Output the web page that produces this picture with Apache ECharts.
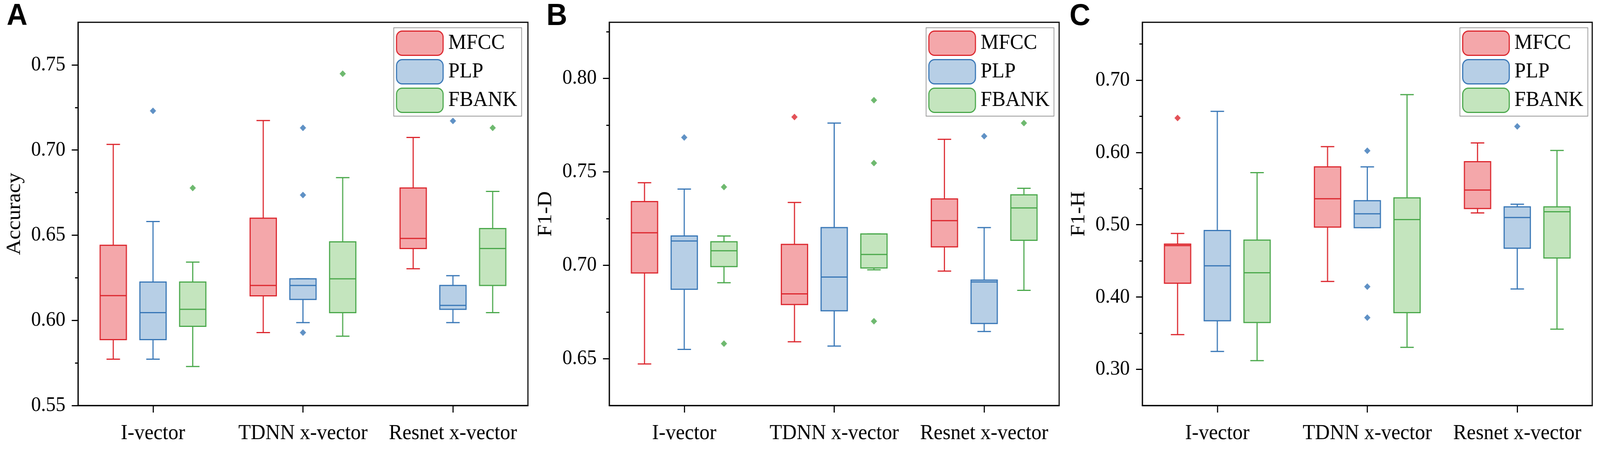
<!DOCTYPE html>
<html>
<head>
<meta charset="utf-8">
<script src="https://cdn.jsdelivr.net/npm/echarts@6/dist/echarts.min.js"></script>
<style>
html, body { margin: 0; padding: 0; background: #fff; overflow: hidden; }
#chart { width: 4328px; height: 1161px; transform-origin: 0 0; }
</style>
</head>
<body>
<div id="chart"></div>
<script>
var categories = ['I-vector', 'TDNN x-vector', 'Resnet x-vector'];
var features = ['MFCC', 'PLP', 'FBANK'];

// box values per category: [min, Q1, median, Q3, max]
var accMFCC  = [[0.5772, 0.5887, 0.6145, 0.6441, 0.7033], [0.5928, 0.6144, 0.6205, 0.6600, 0.7173], [0.6303, 0.6422, 0.6481, 0.6777, 0.7074]];
var accPLP   = [[0.5772, 0.5887, 0.6045, 0.6225, 0.6580], [0.5987, 0.6123, 0.6205, 0.6244, 0.6244], [0.5987, 0.6065, 0.6088, 0.6205, 0.6262]];
var accFBANK = [[0.5729, 0.5965, 0.6065, 0.6225, 0.6342], [0.5907, 0.6045, 0.6244, 0.6461, 0.6838], [0.6045, 0.6205, 0.6422, 0.6539, 0.6757]];
// outliers: [category index, value]
var accMFCCOut  = [];
var accPLPOut   = [[0, 0.7230], [1, 0.7130], [1, 0.6736], [1, 0.5928], [2, 0.7171]];
var accFBANKOut = [[0, 0.6777], [1, 0.7448], [2, 0.7130]];

var f1dMFCC  = [[0.6472, 0.6959, 0.7174, 0.7341, 0.7442], [0.6591, 0.6790, 0.6847, 0.7112, 0.7336], [0.6969, 0.7099, 0.7239, 0.7355, 0.7674]];
var f1dPLP   = [[0.6550, 0.6872, 0.7130, 0.7157, 0.7408], [0.6568, 0.6757, 0.6937, 0.7202, 0.7761], [0.6646, 0.6689, 0.6911, 0.6921, 0.7202]];
var f1dFBANK = [[0.6907, 0.6993, 0.7078, 0.7126, 0.7157], [0.6976, 0.6986, 0.7058, 0.7168, 0.7168], [0.6866, 0.7134, 0.7307, 0.7377, 0.7412]];
var f1dMFCCOut  = [[1, 0.7793]];
var f1dPLPOut   = [[0, 0.7684], [2, 0.7691]];
var f1dFBANKOut = [[0, 0.7419], [0, 0.6581], [1, 0.7883], [1, 0.7547], [1, 0.6701], [2, 0.7761]];

var f1hMFCC  = [[0.3480, 0.4192, 0.4712, 0.4732, 0.4880], [0.4216, 0.4968, 0.5360, 0.5800, 0.6080], [0.5164, 0.5224, 0.5480, 0.5872, 0.6132]];
var f1hPLP   = [[0.3248, 0.3672, 0.4432, 0.4920, 0.6568], [0.4960, 0.4960, 0.5152, 0.5332, 0.5800], [0.4112, 0.4676, 0.5100, 0.5248, 0.5284]];
var f1hFBANK = [[0.3120, 0.3648, 0.4336, 0.4788, 0.5720], [0.3304, 0.3784, 0.5072, 0.5372, 0.6800], [0.3556, 0.4540, 0.5180, 0.5248, 0.6028]];
var f1hMFCCOut  = [[0, 0.6476]];
var f1hPLPOut   = [[1, 0.6024], [1, 0.4144], [1, 0.3716], [2, 0.6360]];
var f1hFBANKOut = [];

var accTicks = [0.55, 0.60, 0.65, 0.70, 0.75];
var accMinor = [0.575, 0.625, 0.675, 0.725];
var f1dTicks = [0.65, 0.70, 0.75, 0.80];
var f1dMinor = [0.675, 0.725, 0.775, 0.825];
var f1hTicks = [0.30, 0.40, 0.50, 0.60, 0.70];
var f1hMinor = [0.35, 0.45, 0.55, 0.65, 0.75];

var panels = [
    { letter: 'A', yName: 'Accuracy', boxes: [accMFCC, accPLP, accFBANK], outliers: [accMFCCOut, accPLPOut, accFBANKOut], yMin: 0.55, yMax: 0.775, ticks: accTicks, minor: accMinor },
    { letter: 'B', yName: 'F1-D', boxes: [f1dMFCC, f1dPLP, f1dFBANK], outliers: [f1dMFCCOut, f1dPLPOut, f1dFBANKOut], yMin: 0.625, yMax: 0.83, ticks: f1dTicks, minor: f1dMinor },
    { letter: 'C', yName: 'F1-H', boxes: [f1hMFCC, f1hPLP, f1hFBANK], outliers: [f1hMFCCOut, f1hPLPOut, f1hFBANKOut], yMin: 0.25, yMax: 0.78, ticks: f1hTicks, minor: f1hMinor }
];

var lineColors = ['#dc262d', '#3776b6', '#4aa84b'];
var fillColors = ['#f4a7aa', '#b7cfe6', '#c4e5be'];
var gridLefts = [211, 1648, 3090];
var letterLefts = [18, 1478, 2893];
var legendRights = [2917, 1477, 33];
var offsets = [-0.265, 0, 0.265];
var BOX_HALF = 0.0875;
var CAP_HALF = 0.045;
var serif = '"Liberation Serif", "Times New Roman", serif';

// the window can be narrower than the drawing; squeeze it to fit like a resized image
var chartDom = document.getElementById('chart');
var fit = window.innerWidth / 4328;
if (fit < 1) {
    chartDom.style.transform = 'scaleX(' + fit + ')';
}

function boxRenderer(k) {
    return function (params, api) {
        var x = api.value(0);
        var lo = api.coord([x, api.value(1)]);
        var q1 = api.coord([x, api.value(2)]);
        var md = api.coord([x, api.value(3)]);
        var q3 = api.coord([x, api.value(4)]);
        var hi = api.coord([x, api.value(5)]);
        var left = api.coord([x - BOX_HALF, api.value(3)])[0];
        var right = api.coord([x + BOX_HALF, api.value(3)])[0];
        var capL = api.coord([x - CAP_HALF, api.value(3)])[0];
        var capR = api.coord([x + CAP_HALF, api.value(3)])[0];
        function ln(x1, y1, x2, y2) {
            return { type: 'line', shape: { x1: x1, y1: y1, x2: x2, y2: y2 }, style: { stroke: lineColors[k], lineWidth: 3, fill: null } };
        }
        return {
            type: 'group',
            children: [
                ln(lo[0], lo[1], q1[0], q1[1]),
                ln(hi[0], hi[1], q3[0], q3[1]),
                ln(capL, lo[1], capR, lo[1]),
                ln(capL, hi[1], capR, hi[1]),
                { type: 'rect', shape: { x: left, y: q3[1], width: right - left, height: q1[1] - q3[1] },
                  style: { fill: fillColors[k], stroke: lineColors[k], lineWidth: 3 } },
                ln(left, md[1], right, md[1])
            ]
        };
    };
}

var chart = echarts.init(chartDom);
var grid = [], xAxis = [], yAxis = [], series = [], legend = [], graphic = [];

panels.forEach(function (p, i) {
    grid.push({ left: gridLefts[i], top: 57, width: 1217, bottom: 124, show: true, borderColor: '#000', borderWidth: 3 });
    xAxis.push({
        type: 'value', gridIndex: i, min: 0.5, max: 3.5,
        axisLine: { lineStyle: { color: '#000', width: 3 } },
        axisTick: { customValues: [1, 2, 3], length: 18, lineStyle: { color: '#000', width: 3 } },
        axisLabel: { customValues: [1, 2, 3], formatter: function (v) { return categories[Math.round(v) - 1]; },
                     fontFamily: serif, fontSize: 55, color: '#000', margin: 44 },
        splitLine: { show: false }
    });
    yAxis.push({
        type: 'value', gridIndex: i, position: 'left', min: p.yMin, max: p.yMax,
        name: p.yName, nameLocation: 'middle', nameGap: 144,
        nameTextStyle: { fontFamily: serif, fontSize: 55, color: '#000' },
        axisLine: { show: true, lineStyle: { color: '#000', width: 3 } },
        axisTick: { show: true, customValues: p.ticks, length: 17, lineStyle: { color: '#000', width: 3 } },
        axisLabel: { customValues: p.ticks, formatter: function (v) { return v.toFixed(2); },
                     fontFamily: serif, fontSize: 53, color: '#000', margin: 34 },
        splitLine: { show: false }
    });
    yAxis.push({
        type: 'value', gridIndex: i, position: 'left', offset: 0, min: p.yMin, max: p.yMax,
        axisLine: { show: false },
        axisTick: { show: true, customValues: p.minor, length: 8, lineStyle: { color: '#000', width: 3 } },
        axisLabel: { show: false },
        splitLine: { show: false }
    });
    features.forEach(function (name, k) {
        series.push({
            type: 'custom', name: name, xAxisIndex: i, yAxisIndex: 2 * i,
            renderItem: boxRenderer(k),
            encode: { x: 0, y: [1, 2, 3, 4, 5] },
            itemStyle: { color: fillColors[k], borderColor: lineColors[k] },
            data: p.boxes[k].map(function (b, c) { return [c + 1 + offsets[k]].concat(b); })
        });
        series.push({
            type: 'scatter', name: name, xAxisIndex: i, yAxisIndex: 2 * i,
            symbol: 'diamond', symbolSize: 17,
            itemStyle: { color: lineColors[k] },
            data: p.outliers[k].map(function (o) { return [o[0] + 1 + offsets[k], o[1]]; })
        });
    });
    legend.push({
        orient: 'vertical', right: legendRights[i], top: 71, selectedMode: false,
        icon: 'roundRect', itemWidth: 126, itemHeight: 62, itemGap: 8,
        padding: [7, 12, 8, 6], borderColor: '#9a9a9a', borderWidth: 2,
        textStyle: { fontFamily: serif, fontSize: 55, color: '#000', padding: [0, 0, 0, 9] },
        data: features.map(function (name, k) {
            return { name: name, itemStyle: { color: fillColors[k], borderColor: lineColors[k], borderWidth: 3 } };
        })
    });
    graphic.push({
        type: 'text', left: letterLefts[i], top: 3,
        style: { text: p.letter, font: 'bold 78px "Liberation Sans"', fill: '#000' }
    });
});

chart.setOption({
    animation: false,
    backgroundColor: '#fff',
    textStyle: { fontFamily: serif },
    grid: grid,
    xAxis: xAxis,
    yAxis: yAxis,
    legend: legend,
    graphic: graphic,
    series: series
});
</script>
</body>
</html>
